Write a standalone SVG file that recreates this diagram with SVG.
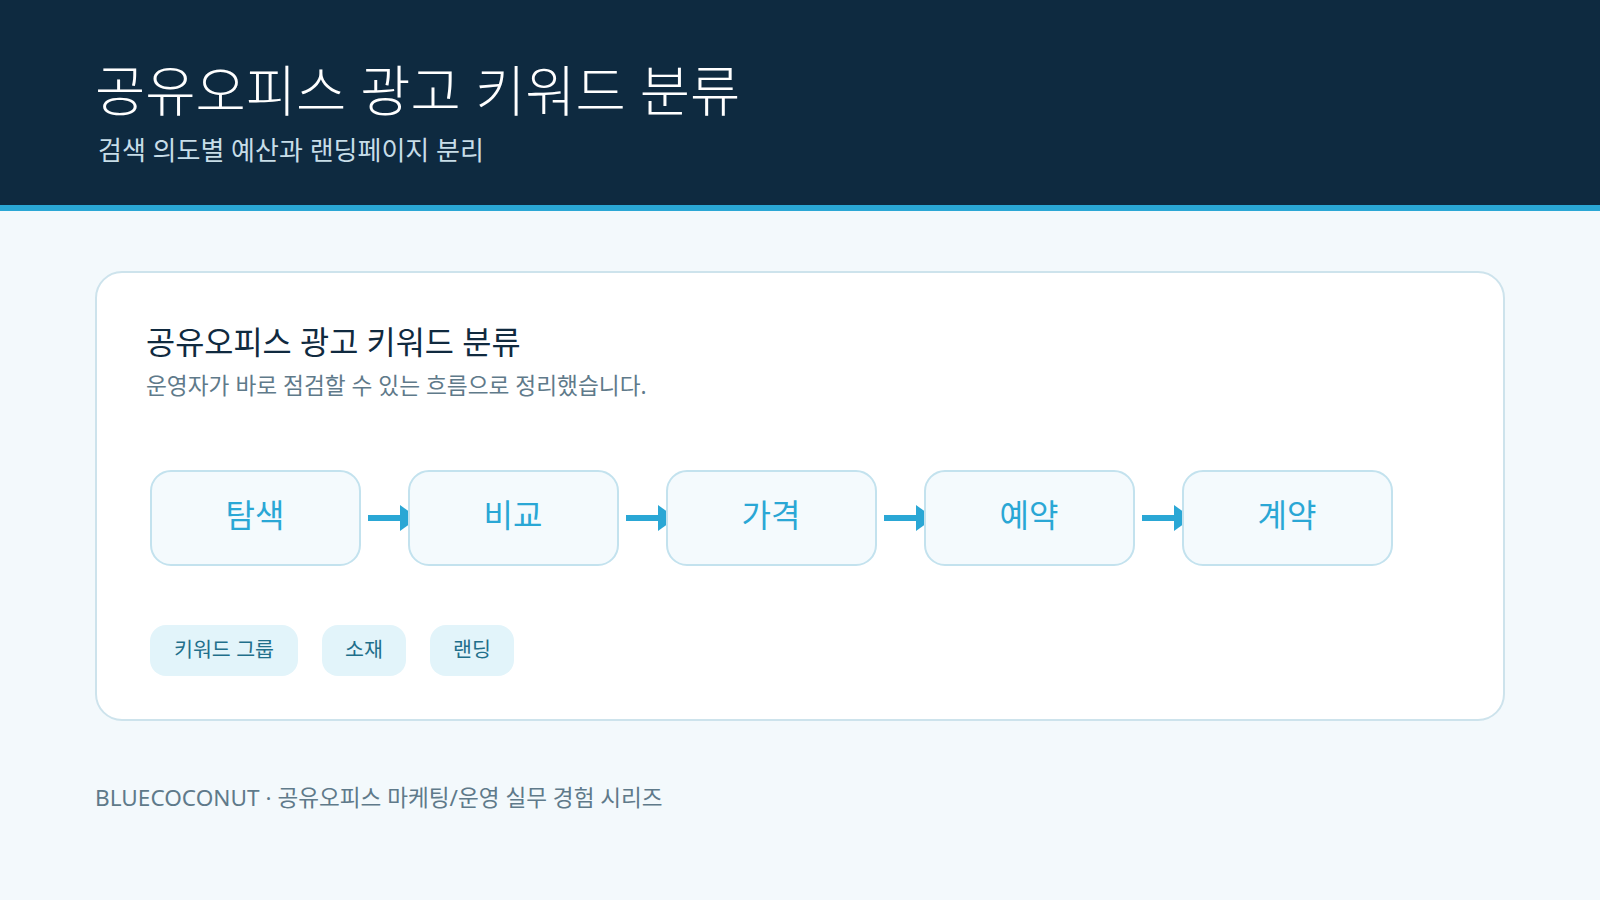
<svg xmlns="http://www.w3.org/2000/svg" width="1600" height="900" viewBox="0 0 1600 900">
<defs>
<style>
text{font-family:"Noto Sans","Noto Sans CJK KR",sans-serif}
.node rect{fill:#f4fafd;stroke:#c3e2ee;stroke-width:2}
.node text{fill:#2aa7d5;font-size:32px;text-anchor:middle}
.tag rect{fill:#e2f4fa}
.tag text{fill:#1f6f8b;font-size:20.6px;text-anchor:middle}
.conn line{stroke:#2aa7d5;stroke-width:6}
</style>
<marker id="ah" markerUnits="userSpaceOnUse" viewBox="0 0 18 26" markerWidth="18" markerHeight="26" refX="0" refY="13" orient="auto">
<path d="M0,0 L18,13 L0,26 z" fill="#2aa7d5"/>
</marker>
</defs>
<rect width="1600" height="900" fill="#f3f9fc"/>
<g id="header">
<rect x="0" y="0" width="1600" height="205" fill="#0e2a40"/>
<rect x="0" y="205" width="1600" height="6" fill="#2aa7d5"/>
<text x="95" y="111" font-size="54.6" font-weight="300" fill="#ffffff">공유오피스 광고 키워드 분류</text>
<text x="98" y="160" font-size="26" fill="#c7dde8">검색 의도별 예산과 랜딩페이지 분리</text>
</g>
<g id="card">
<rect x="96" y="272" width="1408" height="448" rx="26" fill="#ffffff" stroke="#cde3ec" stroke-width="2"/>
<text x="146" y="354" font-size="31.7" fill="#102a3f">공유오피스 광고 키워드 분류</text>
<text x="146" y="394" font-size="22.7" fill="#5f7a8a">운영자가 바로 점검할 수 있는 흐름으로 정리했습니다.</text>
</g>
<g id="connectors" class="conn">
<line x1="368" y1="518" x2="400" y2="518" marker-end="url(#ah)"/>
<line x1="626" y1="518" x2="658" y2="518" marker-end="url(#ah)"/>
<line x1="884" y1="518" x2="916" y2="518" marker-end="url(#ah)"/>
<line x1="1142" y1="518" x2="1174" y2="518" marker-end="url(#ah)"/>
</g>
<g id="node-1" class="node"><rect x="151" y="471" width="209" height="94" rx="20"/><text x="255" y="527">탐색</text></g>
<g id="node-2" class="node"><rect x="409" y="471" width="209" height="94" rx="20"/><text x="513" y="527">비교</text></g>
<g id="node-3" class="node"><rect x="667" y="471" width="209" height="94" rx="20"/><text x="771" y="527">가격</text></g>
<g id="node-4" class="node"><rect x="925" y="471" width="209" height="94" rx="20"/><text x="1029" y="527">예약</text></g>
<g id="node-5" class="node"><rect x="1183" y="471" width="209" height="94" rx="20"/><text x="1287" y="527">계약</text></g>
<g id="tag-1" class="tag"><rect x="150" y="625" width="148" height="51" rx="16"/><text x="224" y="657">키워드 그룹</text></g>
<g id="tag-2" class="tag"><rect x="322" y="625" width="84" height="51" rx="16"/><text x="364" y="657">소재</text></g>
<g id="tag-3" class="tag"><rect x="430" y="625" width="84" height="51" rx="16"/><text x="472" y="657">랜딩</text></g>
<g id="footer">
<text x="95" y="806" font-size="22.6" fill="#5f7a8a">BLUECOCONUT · 공유오피스 마케팅/운영 실무 경험 시리즈</text>
</g>
</svg>
